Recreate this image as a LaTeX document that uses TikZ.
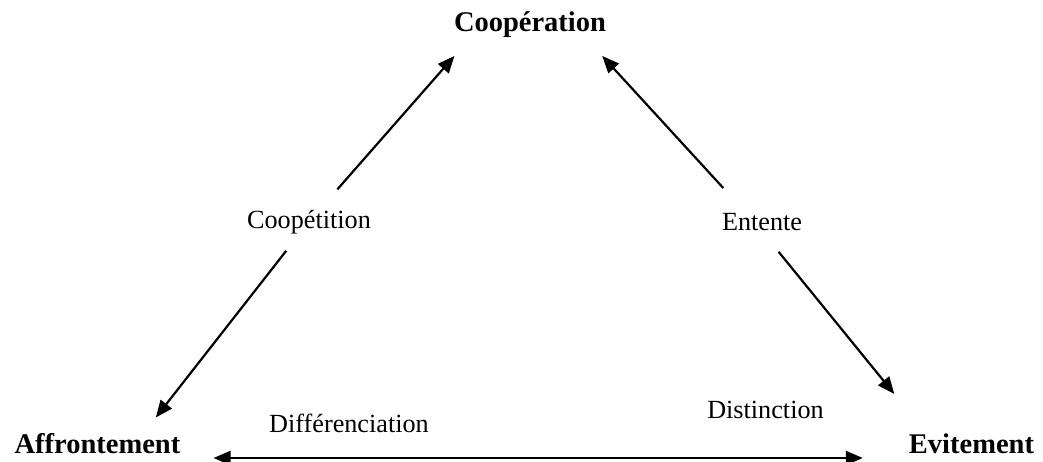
\documentclass[tikz,border=0pt]{standalone}
\usepackage{fontspec}
\setmainfont{Liberation Serif}
\usetikzlibrary{arrows.meta}

\begin{document}
\begin{tikzpicture}[
  x=1pt, y=1pt,
  pole/.style={inner sep=0, anchor=base,
              font=\fontsize{28.5}{32}\selectfont\bfseries},
  relation/.style={inner sep=0, anchor=base,
              font=\fontsize{26.2}{30}\selectfont},
  link/.style={line width=2.2pt, -{Triangle[length=17pt,width=14pt]}},
  twoway/.style={line width=2.2pt,
              {Triangle[length=17pt,width=14pt]}-{Triangle[length=17pt,width=14pt]}}
]
  \useasboundingbox (0,0) rectangle (1043,461);

  % Poles
  \node[pole] (coop) at (530,429)   {Coopération};
  \node[pole] (aff)  at (97.5,7.5)  {Affrontement};
  \node[pole] (evit) at (971.5,7.5) {Evitement};

  % Relations
  \node[relation] (coopet)  at (309,233)  {Coopétition};
  \node[relation] (entente) at (762,231)  {Entente};
  \node[relation] (diff)    at (349,29)   {Différenciation};
  \node[relation] (dist)    at (765.5,43) {Distinction};

  % Left side
  \draw[link, shorten <=43pt, shorten >=23.5pt]
    (coopet.center) -- ([xshift=-60pt]coop.south);
  \draw[link, shorten <=37pt, shorten >=20pt]
    (coopet.center) -- ([xshift=46pt]aff.north);

  % Right side
  \draw[link, shorten <=45.5pt, shorten >=24pt]
    ([xshift=-8pt]entente.center) -- ([xshift=56pt]coop.south);
  \draw[link, shorten <=39pt, shorten >=51pt]
    ([xshift=-8pt]entente.center) -- ([xshift=-45pt]evit.north);

  % Bottom
  \draw[twoway, shorten <=33pt, shorten >=46pt]
    ([yshift=-4.5pt]aff.base east) -- ([yshift=-4.5pt]evit.base west);
\end{tikzpicture}
\end{document}
